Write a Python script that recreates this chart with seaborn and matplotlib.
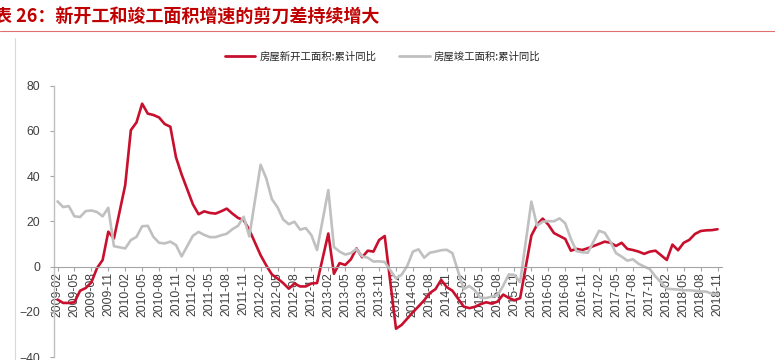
import matplotlib
matplotlib.use('Agg')
import numpy as np
import pandas as pd
import matplotlib.pyplot as plt
import seaborn as sns
from matplotlib.lines import Line2D

# monthly cumulative data, no January release (Jan-Feb reported together)
periods = [f'{y}-{m:02d}' for y in range(2009, 2019) for m in range(2, 13)
           if not (y == 2018 and m == 12)]

new_start = [
    -14.6, -16.1, -16.1, -15.8, -10.7, -9.5, -7.0, -0.7, 2.9, 15.4, 12.4,      # 2009
    36.0, 60.3, 63.7, 72.0, 67.6, 67.0, 65.9, 63.0, 61.8, 48.3, 40.7,          # 2010
    27.5, 23.1, 24.4, 23.7, 23.4, 24.4, 25.6, 23.4, 21.5, 20.5, 16.2,          # 2011
    5.0, 0.5, -3.5, -5.3, -7.3, -9.8, -7.5, -8.8, -8.8, -7.5, -7.3,            # 2012
    14.6, -3.2, 1.5, 0.7, 3.2, 8.0, 4.1, 7.0, 6.6, 11.7, 13.5,                 # 2013
    -27.5, -25.8, -23.0, -20.2, -17.6, -14.9, -11.7, -10.0, -5.9, -9.1, -10.7, # 2014
    -17.7, -18.4, -17.8, -16.6, -15.8, -16.4, -15.5, -12.4, -13.9, -14.9, -14.0,  # 2015
    13.7, 18.5, 21.2, 18.5, 14.8, 13.5, 12.2, 7.0, 7.8, 7.3, 8.1,              # 2016
    10.0, 11.0, 10.5, 9.1, 10.5, 7.8, 7.3, 6.6, 5.6, 6.6, 7.0,                 # 2017
    2.9, 9.7, 7.2, 10.5, 11.8, 14.4, 15.7, 16.0, 16.1, 16.5,                   # 2018
]

completed = [
    28.8, 26.3, 26.7, 22.2, 21.9, 24.5, 24.8, 24.1, 22.2, 26.0, 9.0,           # 2009
    8.0, 11.7, 13.1, 17.8, 18.0, 13.1, 10.5, 10.2, 11.0, 9.5, 4.5,             # 2010
    13.6, 15.3, 14.0, 13.0, 13.0, 13.8, 14.5, 16.5, 18.0, 22.0, 13.3,          # 2011
    45.0, 39.0, 29.8, 26.2, 20.8, 18.7, 19.8, 16.3, 17.0, 13.9, 7.3,           # 2012
    33.8, 8.6, 6.6, 5.3, 5.9, 7.8, 4.5, 3.9, 2.2, 2.3, 2.0,                    # 2013
    -5.3, -3.6, 0.3, 6.6, 7.6, 3.9, 6.1, 6.6, 7.2, 7.4, 5.9,                   # 2014
    -10.0, -8.6, -10.6, -13.9, -13.9, -13.3, -12.7, -8.5, -3.5, -3.7, -6.9,    # 2015
    28.7, 18.0, 19.8, 20.1, 20.0, 21.3, 19.1, 12.2, 6.8, 6.3, 6.1,             # 2016
    15.8, 14.9, 11.0, 5.9, 4.4, 2.6, 3.2, 1.2, 0.0, -1.2, -4.4,                # 2017
    -9.8, -10.0, -10.2, -10.5, -10.5, -10.7, -11.0, -11.1, -12.0, -12.3,       # 2018
]

series_names = ['房屋新开工面积:累计同比', '房屋竣工面积:累计同比']
series_colors = ['#C8102E', '#C0C0C0']
title = '表 26：新开工和竣工面积增速的剪刀差持续增大'
y_ticks = [-40, -20, 0, 20, 40, 60, 80]

sns.set_style('white')
plt.rcParams['font.family'] = ['Liberation Sans', 'Noto Sans CJK SC']


def month_index(p):
    y, m = p.split('-')
    return (int(y) - 2009) * 12 + int(m) - 2


idx = [month_index(p) for p in periods]
df = pd.DataFrame({
    'idx': idx + idx,
    'value': new_start + completed,
    'series': [series_names[0]] * len(idx) + [series_names[1]] * len(idx),
})

fig = plt.figure(figsize=(7.75, 3.6), dpi=100)
ax = fig.add_axes([0.0697, 0.0083, 0.862, 0.754])

sns.lineplot(data=df, x='idx', y='value', hue='series', hue_order=series_names,
             palette=dict(zip(series_names, series_colors)), linewidth=1.9,
             ax=ax, legend=False)

# spines first: moving a spine resets the ticks
for s in ['top', 'right']:
    ax.spines[s].set_visible(False)
ax.spines['left'].set_color('#BFBFBF')
ax.spines['left'].set_linewidth(1.0)
ax.spines['bottom'].set_position(('data', 0))
ax.spines['bottom'].set_color('#A6A6A6')
ax.spines['bottom'].set_linewidth(0.8)
ax.grid(False)

ax.set_xlim(-0.62, 117.8)
ax.set_ylim(-40, 80)
ax.set_yticks(y_ticks)
tick_labels = [p for p in periods if int(p[-2:]) in (2, 5, 8, 11)]
ax.set_xticks([month_index(p) for p in tick_labels])
ax.set_xticklabels(tick_labels, rotation=90, fontsize=8.8, color='#404040',
                   ha='center', va='top')
ax.tick_params(axis='y', labelsize=8.8, labelcolor='#404040', length=3,
               color='#A6A6A6', pad=7, left=True)
ax.tick_params(axis='x', length=3, color='#A6A6A6', pad=1, bottom=True)
ax.set_xlabel('')
ax.set_ylabel('')

# legend
handles = [Line2D([], [], color=c, lw=2.0) for c in series_colors]
fig.legend(handles, series_names, loc='center', bbox_to_anchor=(0.494, 0.842),
           ncol=2, frameon=False, handlelength=2.9, handletextpad=0.4,
           columnspacing=2.2, prop={'family': ['Noto Sans CJK SC'], 'size': 7.5})

# title and frame lines
fig.text(-0.008, 1 - 17 / 360, title, ha='left', va='center', fontsize=13,
         fontweight='bold', color='#C00000', family=['Noto Sans CJK SC'])
fig.add_artist(Line2D([0, 1], [1 - 30.5 / 360] * 2, color='#E07070', lw=0.8,
                      transform=fig.transFigure))
fig.add_artist(Line2D([15 / 775] * 2, [0, 1 - 38 / 360], color='#D9D9D9', lw=0.8,
                      transform=fig.transFigure))

fig.savefig('out.png', dpi=100)
